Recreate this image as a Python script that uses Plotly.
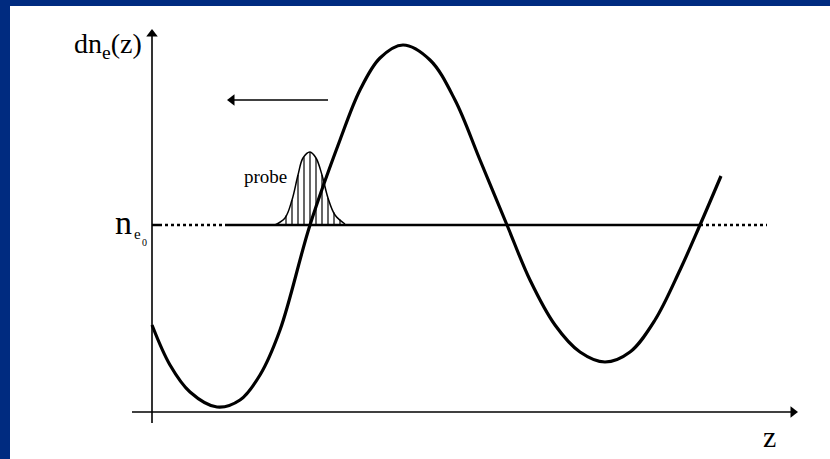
import numpy as np
import plotly.graph_objects as go

# ---- data (units: z and dn_e in arbitrary units) ----
z_curve = [0.00, 0.18, 0.38, 0.65, 0.88, 1.08, 1.28, 1.58, 1.88, 2.08, 2.28, 2.51,
           2.78, 3.03, 3.28, 3.55, 3.78, 4.03, 4.28, 4.53, 4.78, 5.03, 5.28, 5.48, 5.69]
dn_curve = [0.87, 0.47, 0.20, 0.05, 0.12, 0.37, 0.82, 1.87, 2.72, 3.22, 3.54, 3.67,
            3.52, 3.12, 2.52, 1.87, 1.32, 0.87, 0.60, 0.50, 0.60, 0.92, 1.42, 1.87, 2.36]

ne0 = 1.87
z_probe = [1.23, 1.33, 1.40, 1.46, 1.51, 1.58, 1.64, 1.70, 1.76, 1.83, 1.93]
dn_probe = [1.87, 1.94, 2.12, 2.37, 2.54, 2.60, 2.54, 2.37, 2.14, 1.97, 1.88]
hatch_z = [1.34, 1.40, 1.46, 1.52, 1.58, 1.64, 1.70, 1.76, 1.82, 1.88]

ne0_dotted_left = [0.07, 0.76]
ne0_solid = [0.76, 5.48]
ne0_dotted_right = [5.48, 6.15]

# axis extents and wave-direction arrow
y_axis_span = [-0.11, 3.78]
x_axis_span = [-0.20, 6.41]
arrow_span = [1.76, 0.80]
arrow_level = 3.12

BLUE = "#002b80"
FONT = "Liberation Serif, Times New Roman, serif"

fig = go.Figure()

def line(x, y, width=2.5, dash="solid", shape="linear"):
    fig.add_trace(go.Scatter(x=x, y=y, mode="lines",
                             line=dict(color="black", width=width, dash=dash, shape=shape),
                             hoverinfo="skip"))

def head(x, y, symbol):
    fig.add_trace(go.Scatter(x=[x], y=[y], mode="markers",
                             marker=dict(symbol=symbol, size=10, color="black",
                                         line=dict(width=0)),
                             hoverinfo="skip"))

# axes
line([0, 0], y_axis_span, width=1.6)
head(0, y_axis_span[1], "triangle-up")
line(x_axis_span, [0, 0], width=1.6)
head(x_axis_span[1], 0, "triangle-right")
# wave-direction arrow
line(arrow_span, [arrow_level, arrow_level], width=1.6)
head(arrow_span[1], arrow_level, "triangle-left")

# n_e0 reference line
line([0.0, 0.07], [ne0, ne0])
line(ne0_dotted_left, [ne0, ne0], dash="dot")
line(ne0_solid, [ne0, ne0])
line(ne0_dotted_right, [ne0, ne0], dash="dot")

# probe hatching
hx, hy = [], []
for z in hatch_z:
    top = float(np.interp(z, z_probe, dn_probe))
    hx += [z, z, None]
    hy += [ne0, top, None]
line(hx, hy, width=1.2)
# probe outline
line(z_probe, dn_probe, width=1.5, shape="spline")

# density wave
line(z_curve, dn_curve, width=3.2, shape="spline")

ann = []
ann.append(dict(x=-0.08, y=3.67, xref="x", yref="y", text="dn<sub>e</sub>(z)",
                showarrow=False, xanchor="right", yanchor="middle",
                font=dict(family=FONT, size=28, color="black")))
ann.append(dict(x=-0.18, y=1.90, xref="x", yref="y", text="n",
                showarrow=False, xanchor="right", yanchor="middle",
                font=dict(family=FONT, size=34, color="black")))
ann.append(dict(x=-0.15, y=1.78, xref="x", yref="y", text="e",
                showarrow=False, xanchor="center", yanchor="middle",
                font=dict(family=FONT, size=15, color="black")))
ann.append(dict(x=-0.075, y=1.70, xref="x", yref="y", text="0",
                showarrow=False, xanchor="center", yanchor="middle",
                font=dict(family=FONT, size=10, color="black")))
ann.append(dict(x=1.13, y=2.36, xref="x", yref="y", text="probe",
                showarrow=False, xanchor="center", yanchor="middle",
                font=dict(family=FONT, size=19, color="black")))
ann.append(dict(x=6.17, y=-0.24, xref="x", yref="y", text="z",
                showarrow=False, xanchor="center", yanchor="middle",
                font=dict(family=FONT, size=30, color="black")))

fig.update_layout(
    width=830, height=459,
    margin=dict(l=0, r=0, t=0, b=0),
    paper_bgcolor=BLUE, plot_bgcolor=BLUE,
    showlegend=False,
    xaxis=dict(range=[-1.52, 6.78], visible=False, fixedrange=True),
    yaxis=dict(range=[-0.47, 4.12], visible=False, fixedrange=True),
    annotations=ann,
    shapes=[dict(type="rect", xref="paper", yref="paper",
                 x0=10 / 830, x1=1, y0=0, y1=1 - 6 / 459,
                 fillcolor="white", line=dict(width=0), layer="below")],
)

fig.write_html("out.html")
